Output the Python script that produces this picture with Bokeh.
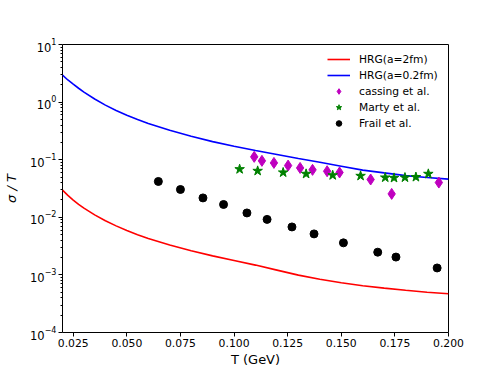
from bokeh.plotting import figure
from bokeh.models import FixedTicker, LogTickFormatter, Legend, LegendItem, PrintfTickFormatter
from bokeh.embed import file_html
from bokeh.resources import INLINE

# HRG curves
T_curve = [0.020, 0.0225, 0.025, 0.0275, 0.030, 0.035, 0.040, 0.045, 0.050, 0.055, 0.060,
           0.070, 0.080, 0.090, 0.100, 0.110, 0.120, 0.130, 0.140, 0.150, 0.160, 0.170,
           0.180, 0.190, 0.200]
hrg_a2 = [0.0297, 0.0240, 0.0199, 0.0168, 0.0144, 0.0110, 0.0087, 0.0071, 0.0059, 0.0050, 0.0043,
          0.00330, 0.00262, 0.00214, 0.00178, 0.00148, 0.00121, 0.00099, 0.00084, 0.00073, 0.00065, 0.00059,
          0.00054, 0.00050, 0.00047]
hrg_a02 = [2.93, 2.42, 2.05, 1.74, 1.49, 1.13, 0.886, 0.717, 0.593, 0.50, 0.427,
           0.324, 0.255, 0.206, 0.171, 0.144, 0.123, 0.105, 0.090, 0.077, 0.066, 0.059,
           0.053, 0.049, 0.046]

# cassing et al.
T_cassing = [0.1094, 0.1130, 0.1186, 0.1252, 0.1308, 0.1366, 0.1434, 0.1492, 0.1637, 0.1735, 0.1955]
s_cassing = [0.112, 0.0955, 0.088, 0.079, 0.072, 0.0666, 0.063, 0.060, 0.0453, 0.0255, 0.0401]

# Marty et al.
T_marty = [0.1026, 0.1110, 0.1229, 0.1336, 0.1460, 0.1590, 0.1705, 0.1746, 0.1797, 0.1848, 0.1906]
s_marty = [0.0684, 0.064, 0.060, 0.0568, 0.0537, 0.0524, 0.049, 0.0483, 0.049, 0.050, 0.0568]

# Frail et al.
T_frail = [0.0647, 0.0750, 0.0855, 0.0951, 0.1060, 0.1154, 0.1270, 0.1373, 0.1510, 0.1670, 0.1755, 0.1947]
s_frail = [0.0419, 0.0304, 0.0217, 0.0167, 0.0119, 0.0092, 0.0068, 0.00515, 0.0036, 0.00248, 0.00204, 0.00132]

x_ticks = [0.025, 0.050, 0.075, 0.100, 0.125, 0.150, 0.175, 0.200]
y_ticks = [1e-4, 1e-3, 1e-2, 1e-1, 1e0, 1e1]

FONT = "DejaVu Sans"

p = figure(width=498, height=374, x_range=(0.02, 0.2), y_range=(1e-4, 10),
           y_axis_type="log", output_backend="svg", toolbar_location=None,
           min_border_left=62, min_border_right=50, min_border_top=44, min_border_bottom=42)

p.grid.grid_line_color = None
p.outline_line_color = "black"
p.outline_line_width = 1
p.background_fill_color = "white"

r1 = p.line(T_curve, hrg_a2, line_color="#ff0000", line_width=1.6)
r2 = p.line(T_curve, hrg_a02, line_color="#0000ff", line_width=1.6)
r3 = p.scatter(T_cassing, s_cassing, marker="diamond", size=11, fill_color="#bf00bf", line_color="#bf00bf")
r4 = p.scatter(T_marty, s_marty, marker="star", size=10, fill_color="#008000", line_color="#008000")
r5 = p.scatter(T_frail, s_frail, marker="circle", size=8, fill_color="black", line_color="black")

# x axis
xa = p.xaxis[0]
xa.ticker = FixedTicker(ticks=x_ticks)
xa.formatter = PrintfTickFormatter(format="%.3f")
xa.axis_label = "T (GeV)"

# y axis
minor = [m * d for d in y_ticks[:-1] for m in range(2, 10)]
ya = p.yaxis[0]
ya.ticker = FixedTicker(ticks=y_ticks, minor_ticks=minor)
ya.formatter = LogTickFormatter()
ya.axis_label = "σ / T"
ya.axis_label_text_font_style = "italic"

for ax in (xa, ya):
    ax.axis_line_color = None
    ax.major_tick_in = 0
    ax.major_tick_out = 4
    ax.minor_tick_in = 0
    ax.minor_tick_out = 2
    ax.major_tick_line_color = "black"
    ax.minor_tick_line_color = "black"
    ax.major_label_text_font = FONT
    ax.major_label_text_font_size = "10.8px"
    ax.major_label_text_color = "black"
    ax.major_label_standoff = 2
    ax.axis_label_text_font = FONT
    ax.axis_label_text_font_size = "13px"
    ax.axis_label_text_color = "black"
    ax.axis_label_standoff = 2
xa.minor_tick_line_color = None
xa.axis_label_text_font_style = "normal"
ya.axis_label_standoff = 8
ya.major_label_text_font_size = "11.5px"

legend = Legend(items=[
    LegendItem(label="HRG(a=2fm)", renderers=[r1]),
    LegendItem(label="HRG(a=0.2fm)", renderers=[r2]),
    LegendItem(label="cassing et al.", renderers=[r3]),
    LegendItem(label="Marty et al.", renderers=[r4]),
    LegendItem(label="Frail et al.", renderers=[r5]),
], location=(265, 202))
legend.border_line_color = None
legend.background_fill_alpha = 0
legend.padding = 0
legend.margin = 0
legend.glyph_width = 23
legend.glyph_height = 14
legend.label_height = 14
legend.spacing = 2
legend.label_standoff = 9
legend.label_text_font = FONT
legend.label_text_font_size = "10.7px"
legend.label_text_color = "black"
p.add_layout(legend, "center")

open("out.html", "w").write(file_html(p, INLINE))
